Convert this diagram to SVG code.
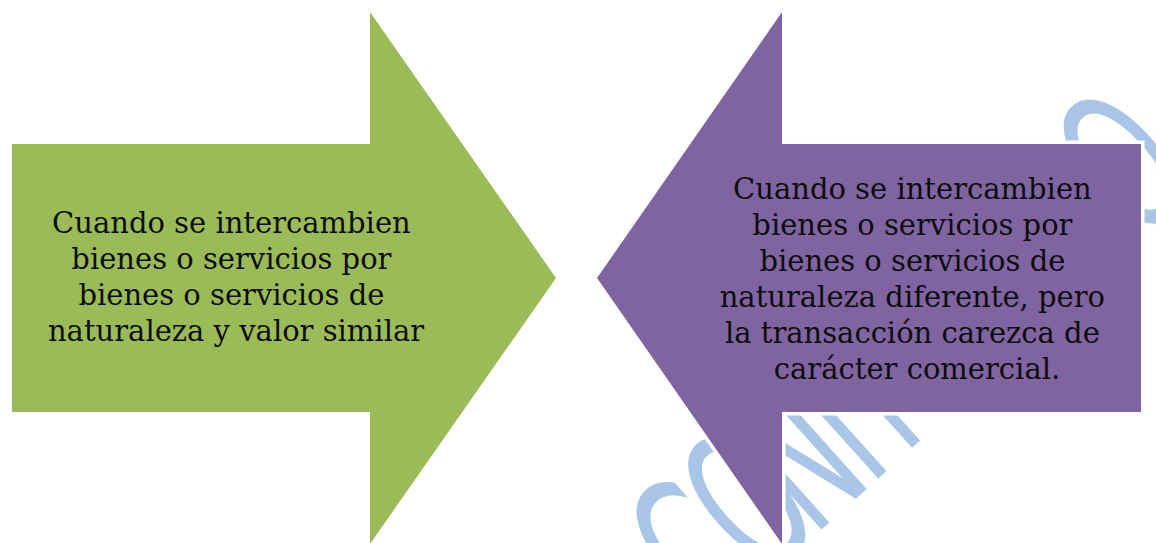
<svg xmlns="http://www.w3.org/2000/svg" width="1156" height="543" viewBox="0 0 1156 543">
  <style>
    .label { font-family: "DejaVu Serif", "Liberation Serif", serif; font-size: 29px; fill: #0d0d0d; text-anchor: middle; }
    .wm { font-family: "DejaVu Sans", "Liberation Sans", sans-serif; font-size: 110px; fill: #A9C6E8; }
  </style>
  <rect width="1156" height="543" fill="#ffffff"/>
  <g id="watermark">
    <text class="wm" transform="translate(722,619) rotate(-42) scale(1,1.8)" x="-15 55 123 182 245" y="0">CONTI</text>
    <text class="wm" transform="translate(722,619) rotate(-42) scale(1,1.8)" x="560" y="0">O</text>
  </g>
  <g id="node-left">
    <path d="M12,144 H370 V12 L556,278 L370,544 V412 H12 Z" fill="#9BBB59"/>
    <text class="label">
      <tspan x="236" y="233">Cuando se intercambien</tspan>
      <tspan x="236" y="269">bienes o servicios por</tspan>
      <tspan x="236" y="305">bienes o servicios de</tspan>
      <tspan x="236" y="341">naturaleza y valor similar</tspan>
    </text>
  </g>
  <g id="node-right">
    <path d="M1141,144 H782 V12 L597,278 L782,544 V412 H1141 Z" fill="none" stroke="#ffffff" stroke-width="7"/>
    <path d="M1141,144 H782 V12 L597,278 L782,544 V412 H1141 Z" fill="#8064A2"/>
    <text class="label">
      <tspan x="917" y="199">Cuando se intercambien</tspan>
      <tspan x="917" y="235">bienes o servicios por</tspan>
      <tspan x="917" y="271">bienes o servicios de</tspan>
      <tspan x="917" y="307">naturaleza diferente, pero</tspan>
      <tspan x="917" y="343">la transacción carezca de</tspan>
      <tspan x="917" y="379">carácter comercial.</tspan>
    </text>
  </g>
  <g id="connectors"></g>
</svg>
